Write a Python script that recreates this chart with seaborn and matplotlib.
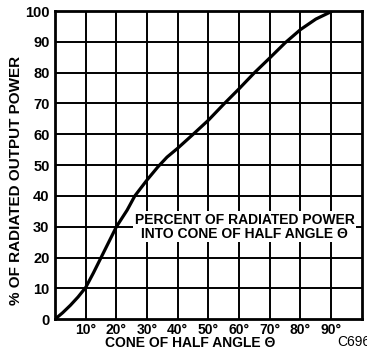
import matplotlib
matplotlib.use("Agg")
import matplotlib.pyplot as plt
import seaborn as sns
import pandas as pd

angles = [0, 2.5, 5, 7.5, 10, 12.5, 15, 17.5, 20, 23.5, 26, 30, 33.5, 36.5, 40, 45, 50, 55, 60, 65, 70, 75, 80, 85, 90]
percent = [0, 2.1, 4.5, 7.2, 10.3, 15, 20, 25, 30, 35.4, 40, 45.2, 49.4, 52.6, 55.5, 60, 64.6, 69.8, 74.8, 80, 84.8, 89.7, 94, 97.4, 99.8]
xticks = [10, 20, 30, 40, 50, 60, 70, 80, 90]
xtick_labels = ["10°", "20°", "30°", "40°", "50°", "60°", "70°", "80°", "90°"]
yticks = [0, 10, 20, 30, 40, 50, 60, 70, 80, 90, 100]

df = pd.DataFrame({"angle": angles, "percent": percent})

sns.set_theme(style="white")
plt.rcParams['font.family'] = ['Liberation Sans', 'DejaVu Sans']

fig = plt.figure(figsize=(3.67, 3.57), dpi=100)
ax = fig.add_axes([0.150, 0.106, 0.836, 0.863])

sns.lineplot(data=df, x="angle", y="percent", ax=ax, color="black", linewidth=2.3, zorder=3,
             solid_joinstyle="round", solid_capstyle="round")

ax.set_xlim(0, 100)
ax.set_ylim(0, 100)
ax.set_xticks(xticks)
ax.set_xticklabels(xtick_labels)
ax.set_yticks(yticks)
for v in range(10, 100, 10):
    ax.axvline(v, color="black", linewidth=1.4, zorder=1)
    ax.axhline(v, color="black", linewidth=1.4, zorder=1)
for s in ax.spines.values():
    s.set_color("black")
    s.set_linewidth(2)
ax.tick_params(axis="y", length=0, pad=4, labelsize=10.5)
ax.tick_params(axis="x", length=0, pad=3, labelsize=10)
for lab in ax.get_xticklabels() + ax.get_yticklabels():
    lab.set_fontweight("bold")
    lab.set_color("black")

ax.set_xlabel("CONE OF HALF ANGLE Θ", fontsize=10, fontweight="bold", color="black")
ax.xaxis.set_label_coords(0.44, -0.055)
ax.set_ylabel("% OF RADIATED OUTPUT POWER", fontsize=11, fontweight="bold", color="black")
ax.yaxis.set_label_coords(-0.105, 0.45)

ax.text(61.8, 30, "PERCENT OF RADIATED POWER\nINTO CONE OF HALF ANGLE Θ",
        ha="center", va="center", fontsize=10, fontweight="bold", color="black",
        linespacing=1.0, zorder=4,
        bbox=dict(facecolor="white", edgecolor="none", pad=1.2))

fig.text(337/367, 1 - 342/357, "C696", fontsize=10, color="black", ha="left", va="center")

fig.savefig("out.png", dpi=100)
